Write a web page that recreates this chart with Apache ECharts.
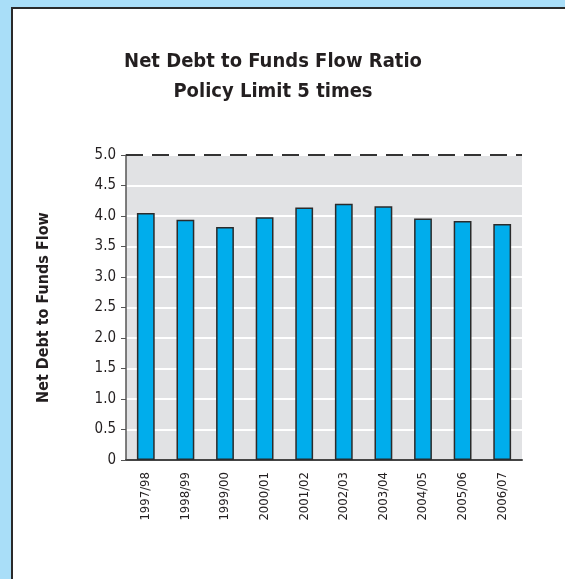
<!DOCTYPE html>
<html>
<head>
<meta charset="utf-8">
<script src="https://cdn.jsdelivr.net/npm/echarts@6/dist/echarts.min.js"></script>
<style>
html, body { margin: 0; padding: 0; background: #a9def8; }
#chart { width: 565px; height: 579px; }
</style>
</head>
<body>
<div id="chart"></div>
<script>
// fiscal years on the x axis
const years = ['1997/98', '1998/99', '1999/00', '2000/01', '2001/02', '2002/03', '2003/04', '2004/05', '2005/06', '2006/07'];
// net debt / funds flow ratio
const ratios = [4.05, 3.94, 3.82, 3.98, 4.14, 4.20, 4.16, 3.96, 3.92, 3.87];
const policyLimit = 5;
const fontFam = '"DejaVu Sans Condensed", "Liberation Sans Narrow", sans-serif';

const chart = echarts.init(document.getElementById('chart'));
chart.setOption({
    animation: false,
    backgroundColor: '#a9def8',
    graphic: [{
        type: 'rect',
        z: -10,
        silent: true,
        shape: { x: 12, y: 8, width: 600, height: 620 },
        style: { fill: '#fff', stroke: '#2a2a2a', lineWidth: 2 }
    }],
    title: {
        text: 'Net Debt to Funds Flow Ratio\nPolicy Limit 5 times',
        left: 268,
        top: 42,
        textAlign: 'center',
        textStyle: {
            fontFamily: fontFam,
            fontSize: 20,
            fontWeight: 'bold',
            color: '#231f20',
            lineHeight: 30
        }
    },
    grid: {
        left: 126,
        right: 43,
        top: 155,
        bottom: 119,
        show: true,
        backgroundColor: '#e1e2e4',
        borderWidth: 0
    },
    xAxis: {
        type: 'category',
        data: years,
        axisLine: { lineStyle: { color: '#444', width: 2 } },
        axisTick: { show: false },
        axisLabel: {
            rotate: 90,
            margin: 12,
            color: '#231f20',
            fontSize: 13,
            fontFamily: fontFam
        }
    },
    yAxis: {
        type: 'value',
        min: 0,
        max: 5,
        interval: 0.5,
        name: 'Net Debt to Funds Flow',
        nameLocation: 'middle',
        nameGap: 74,
        nameTextStyle: {
            fontFamily: fontFam,
            fontSize: 16,
            fontWeight: 'bold',
            color: '#231f20'
        },
        axisLine: { show: true, lineStyle: { color: '#555', width: 1.5 } },
        axisTick: { show: true, length: 5, lineStyle: { color: '#555' } },
        splitLine: { lineStyle: { color: '#fff', width: 2 } },
        axisLabel: {
            color: '#231f20',
            fontSize: 15,
            fontFamily: fontFam,
            margin: 10,
            formatter: v => (v === 0 ? '0' : v.toFixed(1))
        }
    },
    series: [{
        type: 'bar',
        data: ratios,
        barWidth: '45%',
        itemStyle: {
            color: '#00adec',
            borderColor: '#2b2b2b',
            borderWidth: 1.5
        },
        markLine: {
            silent: true,
            symbol: 'none',
            label: { show: false },
            lineStyle: { color: '#333', width: 2, type: [17, 9] },
            data: [{ yAxis: policyLimit }]
        }
    }]
});
</script>
</body>
</html>
